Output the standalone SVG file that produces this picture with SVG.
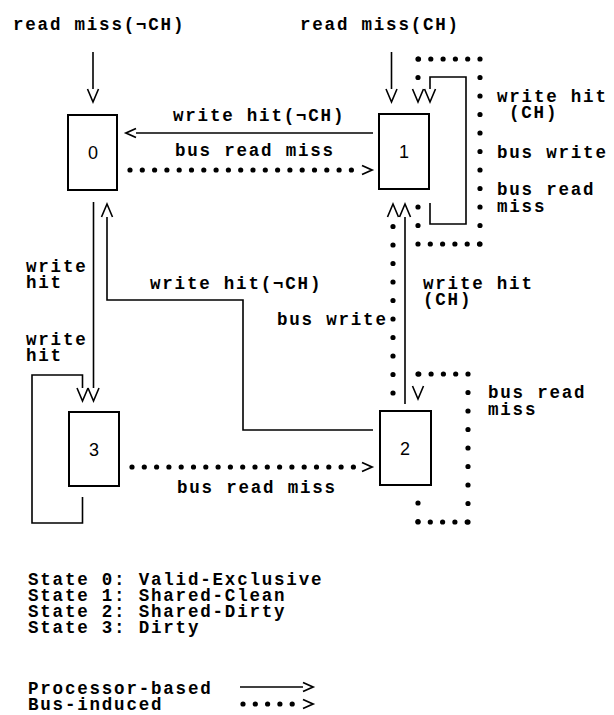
<svg xmlns="http://www.w3.org/2000/svg" width="614" height="715" viewBox="0 0 614 715">
<style>
.t{font-family:"Liberation Mono","DejaVu Sans Mono",monospace;font-size:17.5px;font-weight:bold;letter-spacing:1.8px;fill:#000}
.n{font-family:"Liberation Sans",Arial,sans-serif;font-size:18px;text-anchor:middle;fill:#000}
.box{fill:#fff;stroke:#000;stroke-width:2}
.s{fill:none;stroke:#000;stroke-width:1.6}
.dh{fill:none;stroke:#000;stroke-width:5.2;stroke-linecap:round;stroke-dasharray:0 12.3}
.dv{fill:none;stroke:#000;stroke-width:5.2;stroke-linecap:round;stroke-dasharray:0 18.5}
</style>
<defs>
<marker id="chev" markerUnits="userSpaceOnUse" markerWidth="16" markerHeight="14" refX="0" refY="0" orient="auto" overflow="visible"><path d="M0,-5.5 L13,0 L0,5.5" fill="none" stroke="#000" stroke-width="1.6"/></marker>
<marker id="gt" markerUnits="userSpaceOnUse" markerWidth="12" markerHeight="10" refX="0" refY="0" orient="auto" overflow="visible"><path d="M0,-4.5 L10,0 L0,4.5" fill="none" stroke="#000" stroke-width="1.8"/></marker>
</defs>
<rect width="614" height="715" fill="#fff"/>

<g id="connectors">
  <path class="s" d="M93,52 V89" marker-end="url(#chev)"/>
  <path class="s" d="M391.5,52 V89" marker-end="url(#chev)"/>
  <path class="s" d="M373,133 H136" marker-end="url(#gt)"/>
  <path class="s" d="M430,203 V224 H466 V77 H430 V89" marker-end="url(#chev)"/>
  <path class="s" d="M93.5,202 V388" marker-end="url(#chev)"/>
  <path class="s" d="M82.5,497 V523 H32 V375 H82.5 V388" marker-end="url(#chev)"/>
  <path class="s" d="M373,430 H243 V300 H107 V217" marker-end="url(#chev)"/>
  <path class="s" d="M405,404 V217" marker-end="url(#chev)"/>
  <path class="dh" d="M130,170 H362" marker-end="url(#gt)"/>
  <path class="dh" d="M132,467 H362" marker-end="url(#gt)"/>
  <path class="dv" d="M418,207 V244"/>
  <path class="dh" d="M418,244 H480"/>
  <path class="dv" d="M480,244 V59"/>
  <path class="dh" d="M480,59 H418"/>
  <path class="dv" d="M418,59 V89" marker-end="url(#chev)"/>
  <path class="dv" d="M393,393 V217" marker-end="url(#chev)"/>
  <path class="dv" d="M418,503 V522"/>
  <path class="dh" d="M418,522 H468"/>
  <path class="dv" d="M468,522 V374"/>
  <path class="dh" d="M468,374 H418"/>
  <path class="dv" d="M418,374 V386" marker-end="url(#chev)"/>
</g>

<g id="state0"><rect class="box" x="68" y="115" width="49" height="75"/><text class="n" x="93" y="159">0</text></g>
<g id="state1"><rect class="box" x="379" y="114" width="50" height="75"/><text class="n" x="404" y="158">1</text></g>
<g id="state2"><rect class="box" x="380" y="411" width="51" height="74"/><text class="n" x="405" y="455">2</text></g>
<g id="state3"><rect class="box" x="69" y="412" width="50" height="74"/><text class="n" x="94" y="456">3</text></g>

<g id="labels">
  <text class="t" x="13" y="30">read miss(¬CH)</text>
  <text class="t" x="300" y="30">read miss(CH)</text>
  <text class="t" x="173" y="121">write hit(¬CH)</text>
  <text class="t" x="175" y="156">bus read miss</text>
  <text class="t" x="497" y="102">write hit</text>
  <text class="t" x="509" y="118">(CH)</text>
  <text class="t" x="497" y="158">bus write</text>
  <text class="t" x="497" y="195">bus read</text>
  <text class="t" x="497" y="212">miss</text>
  <text class="t" x="26" y="272">write</text>
  <text class="t" x="26" y="288">hit</text>
  <text class="t" x="26" y="345">write</text>
  <text class="t" x="26" y="361">hit</text>
  <text class="t" x="150" y="289">write hit(¬CH)</text>
  <text class="t" x="277" y="325">bus write</text>
  <text class="t" x="423" y="289">write hit</text>
  <text class="t" x="423" y="305">(CH)</text>
  <text class="t" x="488" y="398">bus read</text>
  <text class="t" x="488" y="415">miss</text>
  <text class="t" x="177" y="493">bus read miss</text>
</g>

<g id="legend">
  <text class="t" x="28" y="585">State 0: Valid-Exclusive</text>
  <text class="t" x="28" y="601">State 1: Shared-Clean</text>
  <text class="t" x="28" y="617">State 2: Shared-Dirty</text>
  <text class="t" x="28" y="633">State 3: Dirty</text>
  <text class="t" x="28" y="694">Processor-based</text>
  <text class="t" x="28" y="710">Bus-induced</text>
  <path class="s" d="M240,687 H303" marker-end="url(#gt)"/>
  <path class="dh" d="M243,704 H303" marker-end="url(#gt)"/>
</g>
</svg>
